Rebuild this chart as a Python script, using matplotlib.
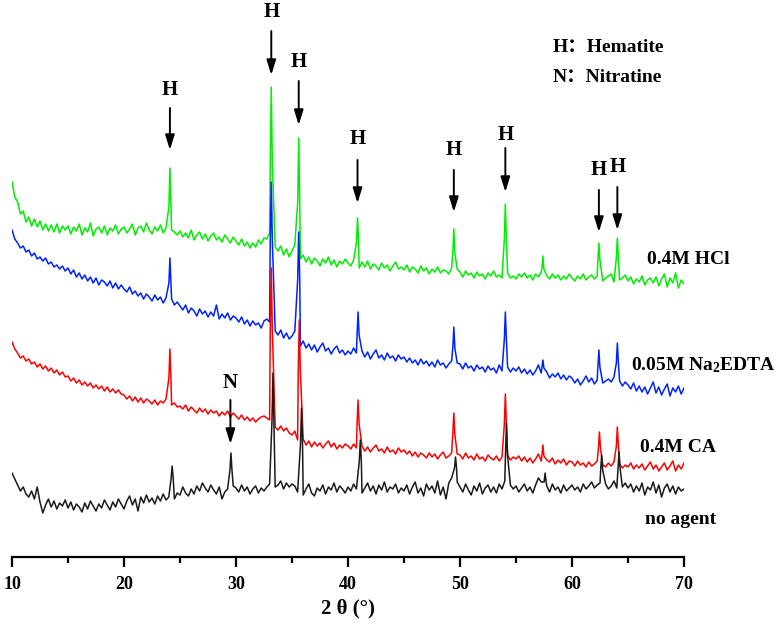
import numpy as np
import matplotlib
matplotlib.use("Agg")
import matplotlib.pyplot as plt
from matplotlib.ticker import MultipleLocator

plt.rcParams['font.family'] = ['Liberation Serif', 'Noto Sans CJK SC']
plt.rcParams['font.weight'] = 'bold'
plt.rcParams['mathtext.fontset'] = 'custom'
plt.rcParams['mathtext.rm'] = 'Liberation Serif:bold'
plt.rcParams['mathtext.it'] = 'Liberation Serif:bold'
plt.rcParams['mathtext.bf'] = 'Liberation Serif:bold'

# ---------------- data (2theta grid 10..70 step 0.25, intensity in a.u. incl. stacking offset)
two_theta = np.linspace(10, 70, 241)

hcl_bg = [
    375, 360, 355, 343, 346, 335, 340, 331, 338, 330, 336, 327, 333, 326, 332, 325, 333, 324, 331, 327,
    331, 323, 330, 326, 333, 322, 329, 325, 334, 321, 328, 330, 324, 331, 322, 329, 326, 332, 323, 328,
    330, 324, 328, 333, 322, 329, 331, 325, 334, 327, 323, 330, 326, 332, 324, 329, 320, 327, 325, 322,
    326, 320, 324, 319, 327, 317, 322, 325, 318, 323, 316, 321, 324, 317, 320, 315, 322, 318, 314, 320,
    316, 312, 318, 311, 315, 309, 314, 310, 317, 313, 319, 318, 324, 316, 310, 306, 311, 302, 308, 300,
    306, 312, 304, 298, 302, 295, 300, 293, 299, 296, 291, 298, 294, 300, 292, 297, 290, 296, 293, 298,
    294, 291, 297, 292, 289, 295, 290, 296, 288, 293, 291, 287, 294, 289, 292, 286, 291, 295, 288, 290,
    287, 292, 285, 290, 288, 284, 291, 286, 289, 283, 288, 285, 290, 284, 287, 286, 283, 289, 284, 288,
    285, 280, 286, 282, 284, 279, 285, 281, 283, 278, 284, 281, 286, 280, 282, 279, 283, 284, 279, 281,
    278, 283, 280, 284, 279, 282, 277, 283, 280, 285, 289, 281, 278, 283, 279, 282, 277, 281, 278, 283,
    279, 276, 281, 278, 283, 277, 280, 282, 278, 281, 283, 276, 279, 281, 283, 275, 280, 277, 279, 282,
    276, 280, 273, 278, 275, 281, 272, 277, 279, 274, 280, 271, 278, 283, 270, 279, 274, 284, 269, 277,
    273]
hcl_peak_pos = [24.1, 33.15, 35.6, 40.85, 49.45, 54.05, 57.4, 62.4, 64.05]
hcl_peak_top = [389, 470, 419, 339, 328, 353, 301, 314, 319]
hcl_peak_sh = [350, 395, 355, 315, 304, 318, 288, 297, 299]

edta_bg = [
    327, 318, 314, 309, 311, 305, 307, 301, 304, 298, 300, 296, 299, 293, 295, 290, 292, 288, 291, 286,
    289, 283, 287, 280, 284, 278, 282, 276, 280, 274, 279, 272, 277, 275, 271, 276, 269, 274, 268, 272,
    268, 265, 270, 263, 266, 261, 264, 258, 263, 260, 256, 262, 257, 260, 254, 259, 256, 258, 252, 255,
    251, 247, 252, 244, 249, 246, 241, 248, 243, 246, 240, 245, 241, 252, 238, 243, 239, 244, 237, 241,
    239, 235, 240, 233, 237, 231, 236, 232, 234, 229, 236, 238, 235, 230, 226, 222, 227, 219, 224, 218,
    221, 226, 215, 211, 216, 209, 213, 207, 212, 205, 210, 214, 206, 209, 203, 208, 211, 204, 207, 202,
    206, 203, 209, 204, 201, 206, 200, 205, 198, 203, 207, 199, 202, 197, 204, 199, 201, 196, 202, 198,
    200, 195, 199, 194, 197, 192, 198, 193, 196, 191, 195, 190, 197, 192, 194, 189, 193, 196, 190, 194,
    193, 188, 194, 189, 191, 186, 192, 188, 190, 185, 191, 187, 189, 184, 192, 186, 187, 190, 185, 189,
    186, 190, 184, 188, 183, 187, 182, 186, 192, 184, 181, 185, 179, 183, 180, 184, 178, 182, 177, 181,
    179, 174, 178, 172, 176, 181, 175, 179, 173, 177, 180, 174, 176, 178, 175, 180, 177, 176, 171, 175,
    172, 168, 174, 166, 171, 165, 170, 163, 169, 175, 164, 170, 162, 168, 173, 161, 169, 165, 171, 163,
    169]
edta_peak_pos = [24.1, 33.15, 35.6, 40.9, 49.45, 54.05, 57.4, 62.4, 64.05]
edta_peak_top = [299, 375, 325, 245, 230, 245, 197, 207, 214]
edta_peak_sh = [274, 318, 278, 222, 209, 218, 189, 190, 194]

ca_bg = [
    215, 208, 204, 199, 201, 196, 198, 193, 195, 190, 193, 188, 191, 186, 189, 184, 187, 182, 185, 180,
    181, 176, 179, 174, 177, 172, 175, 171, 174, 169, 172, 168, 171, 166, 170, 165, 168, 164, 167, 163,
    162, 158, 161, 156, 160, 155, 159, 154, 158, 156, 153, 157, 152, 156, 154, 158, 157, 152, 154, 150,
    151, 148, 152, 146, 150, 147, 144, 149, 145, 148, 143, 147, 144, 146, 141, 145, 142, 146, 140, 144,
    141, 138, 142, 137, 140, 136, 139, 135, 138, 140, 141, 139, 137, 132, 130, 127, 131, 126, 129, 124,
    122, 126, 117, 113, 118, 112, 116, 110, 115, 111, 114, 109, 113, 116, 110, 114, 108, 112, 109, 113,
    111, 108, 113, 109, 107, 111, 106, 110, 105, 109, 112, 106, 108, 104, 110, 105, 107, 103, 109, 105,
    107, 103, 106, 101, 105, 100, 104, 102, 99, 104, 100, 103, 98, 102, 105, 99, 101, 104, 100, 103,
    102, 98, 104, 99, 101, 97, 103, 98, 100, 96, 102, 99, 97, 101, 96, 100, 98, 102, 97, 100,
    98, 101, 96, 100, 95, 99, 94, 98, 103, 96, 93, 97, 95, 99, 93, 97, 94, 98, 92, 96,
    95, 91, 96, 92, 94, 90, 95, 91, 93, 96, 98, 92, 90, 94, 91, 95, 97, 93, 89, 92,
    90, 94, 88, 92, 89, 93, 87, 91, 95, 88, 92, 86, 90, 94, 87, 91, 96, 86, 92, 88,
    94]
ca_peak_pos = [24.1, 33.15, 35.65, 40.9, 49.45, 54.05, 57.4, 62.45, 64.05]
ca_peak_top = [208, 289, 237, 157, 144, 163, 112, 125, 130]
ca_peak_sh = [179, 228, 187, 133, 123, 133, 101, 109, 111]

none_bg = [
    84, 78, 72, 66, 70, 63, 60, 66, 58, 70, 55, 44, 52, 58, 50, 56, 48, 54, 51, 57,
    49, 55, 47, 53, 50, 45, 54, 48, 56, 51, 46, 53, 49, 57, 52, 47, 55, 50, 58, 53,
    48, 56, 61, 52, 58, 46, 60, 54, 62, 55, 59, 53, 61, 56, 63, 57, 60, 66, 58, 64,
    62, 70, 64, 61, 68, 63, 71, 66, 74, 69, 65, 72, 67, 63, 70, 58, 65, 68, 62, 71,
    69, 65, 72, 66, 70, 63, 68, 71, 64, 69, 66, 70, 73, 75, 70, 72, 76, 68, 74, 70,
    73, 71, 65, 70, 62, 68, 73, 64, 61, 69, 66, 72, 63, 70, 67, 74, 65, 71, 68, 64,
    70, 66, 73, 68, 71, 64, 69, 74, 66, 71, 63, 72, 67, 75, 65, 70, 68, 73, 64, 69,
    66, 72, 63, 70, 75, 64, 69, 61, 73, 67, 71, 64, 76, 62, 70, 58, 74, 79, 66, 75,
    70, 65, 73, 67, 62, 71, 66, 74, 63, 69, 72, 65, 70, 64, 73, 68, 76, 80, 72, 68,
    71, 65, 69, 73, 66, 70, 64, 72, 79, 75, 68, 71, 65, 73, 67, 70, 64, 72, 66, 69,
    72, 67, 70, 65, 73, 68, 71, 75, 69, 72, 74, 70, 73, 68, 71, 76, 69, 72, 70, 74,
    69, 73, 65, 71, 66, 74, 62, 70, 67, 75, 64, 72, 60, 69, 73, 65, 71, 63, 70, 66,
    68]
none_peak_pos = [24.3, 29.55, 33.3, 35.85, 41.1, 49.6, 54.15, 57.6, 62.65, 64.2]
none_peak_top = [91, 104, 184, 149, 117, 100, 134, 84, 102, 105]
none_peak_sh = [79, 87, 135, 113, 96, 89, 102, 75, 87, 89]

series_labels = ["0.4M HCl", "0.05M Na$_{2}$EDTA", "0.4M CA", "no agent"]
series_colors = ["#00ee00", "#0022ff", "#ff0000", "#1a1a1a"]

h_peaks = [24.1, 33.15, 35.6, 40.85, 49.45, 54.05, 62.4, 64.05]
n_peaks = [29.5]


def build(bg, pos, top, sh):
    bg = np.asarray(bg, float)
    assert len(bg) == len(two_theta), len(bg)
    pos = np.asarray(pos, float)
    keep = np.all(np.abs(two_theta[:, None] - pos[None, :]) > 0.13, axis=1)
    xs = np.concatenate([two_theta[keep], pos - 0.09, pos, pos + 0.09])
    ys = np.concatenate([bg[keep], sh, top, sh])
    o = np.argsort(xs, kind="stable")
    return xs[o], ys[o]


fig = plt.figure(figsize=(7.83, 6.26), dpi=100)
ax = fig.add_axes([12 / 783, 69 / 626, 672 / 783, 557 / 626])

data = [(hcl_bg, hcl_peak_pos, hcl_peak_top, hcl_peak_sh),
        (edta_bg, edta_peak_pos, edta_peak_top, edta_peak_sh),
        (ca_bg, ca_peak_pos, ca_peak_top, ca_peak_sh),
        (none_bg, none_peak_pos, none_peak_top, none_peak_sh)]
for (bg, pos, top, sh), c in zip(data, series_colors):
    xs, ys = build(bg, pos, top, sh)
    ax.plot(xs, ys, color=c, lw=1.1)

ax.set_xlim(10, 70)
ax.set_ylim(0, 557)

# series labels
lab_pos = [(66.7, 297), (65.27, 192), (66.07, 109), (66.5, 37)]
for (lx, ly), t in zip(lab_pos, series_labels):
    ax.text(lx, ly, t, fontsize=14, fontweight='bold', ha='left', va='center',
            clip_on=False)

# H / N markers
h_text_y = [467, 545, 495, 418, 407, 422, 387, 390]
h_tail = [449, 526, 476, 397, 387, 409, 367, 370]
h_tip = [407, 482, 432, 354, 345, 365, 325, 327]
for x, ty, a0, a1 in zip(h_peaks, h_text_y, h_tail, h_tip):
    ax.text(x, ty, "H", fontsize=15, fontweight='bold', ha='center', va='center')
    ax.annotate('', xy=(x, a1), xytext=(x, a0),
                arrowprops=dict(arrowstyle='-|>,head_length=0.9,head_width=0.28',
                                color='k', lw=1.4, shrinkA=0, shrinkB=0))
for x in n_peaks:
    ax.text(x, 174, "N", fontsize=15, fontweight='bold', ha='center', va='center')
    ax.annotate('', xy=(x, 113), xytext=(x, 157),
                arrowprops=dict(arrowstyle='-|>,head_length=0.9,head_width=0.28',
                                color='k', lw=1.4, shrinkA=0, shrinkB=0))

ax.text(58.3, 509, "H：Hematite", fontsize=14, fontweight='bold', ha='left', va='center')
ax.text(58.3, 480, "N：Nitratine", fontsize=14, fontweight='bold', ha='left', va='center')

for s in ['left', 'right', 'top']:
    ax.spines[s].set_visible(False)
ax.spines['bottom'].set_linewidth(1.6)
ax.set_yticks([])
ax.xaxis.set_major_locator(MultipleLocator(10))
ax.xaxis.set_minor_locator(MultipleLocator(5))
ax.tick_params(axis='x', which='major', length=7.5, width=1.6, direction='out',
               labelsize=13, pad=6)
ax.tick_params(axis='x', which='minor', length=4.5, width=1.6, direction='out')
for lbl in ax.get_xticklabels():
    lbl.set_fontweight('bold')
ax.set_xlabel("2 θ (°)", fontsize=15, fontweight='bold', labelpad=4)
ax.patch.set_alpha(0)

fig.savefig("out.png", dpi=100)
